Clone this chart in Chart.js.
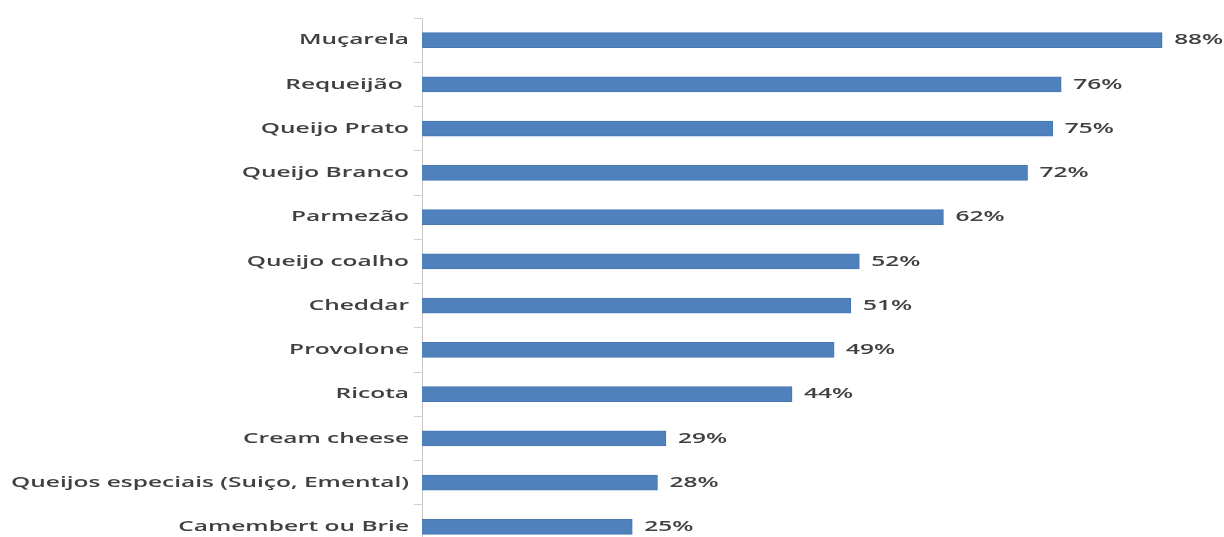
<!DOCTYPE html>
<html>
<head>
<meta charset="utf-8">
<script src="https://cdn.jsdelivr.net/npm/chart.js@4"></script>
<style>
html,body{margin:0;padding:0;background:#fff;overflow:hidden;}
#wrap{position:relative;width:1224px;height:552px;}
</style>
</head>
<body>
<div id="wrap"><canvas id="c"></canvas></div>
<script>
const categories = ["Muçarela","Requeijão ","Queijo Prato","Queijo Branco","Parmezão","Queijo coalho","Cheddar","Provolone","Ricota","Cream cheese","Queijos especiais (Suiço, Emental)","Camembert ou Brie"];
const values = [88,76,75,72,62,52,51,49,44,29,28,25];
const valueLabels = ["88%","76%","75%","72%","62%","52%","51%","49%","44%","29%","28%","25%"];

const FONT = "600 15px 'Open Sans'";
const TEXT_COLOR = "#404040";
const LONGEST_WIDTH = 398;

const labelPlugin = {
  id: 'stretchedLabels',
  afterDraw(chart) {
    const ctx = chart.ctx;
    const ys = chart.scales.y, xs = chart.scales.x;
    ctx.save();
    ctx.font = FONT;
    const stretch = LONGEST_WIDTH / ctx.measureText(categories[10]).width;
    ctx.fillStyle = TEXT_COLOR;
    ctx.textBaseline = 'middle';
    categories.forEach((lab, i) => {
      const y = ys.getPixelForValue(i);
      ctx.save();
      ctx.translate(ys.right - 13, y);
      ctx.scale(stretch, 1);
      ctx.textAlign = 'right';
      ctx.fillText(lab, 0, 0);
      ctx.restore();
      const x = xs.getPixelForValue(values[i]) + 12;
      ctx.save();
      ctx.translate(x, y);
      ctx.scale(stretch, 1);
      ctx.textAlign = 'left';
      ctx.fillText(valueLabels[i], 0, 0);
      ctx.restore();
    });
    ctx.restore();
  }
};

new Chart(document.getElementById('c'), {
  type: 'bar',
  data: {
    labels: categories,
    datasets: [{
      data: values,
      backgroundColor: '#4f81bd',
      borderColor: '#4677b3',
      borderWidth: 1,
      barThickness: 15
    }]
  },
  options: {
    indexAxis: 'y',
    responsive: true,
    maintainAspectRatio: false,
    animation: false,
    layout: { padding: { top: 18, bottom: 3, right: 3, left: 0 } },
    plugins: { legend: { display: false }, tooltip: { enabled: false } },
    scales: {
      x: { display: false, min: 0, max: 95 },
      y: {
        afterFit(s) { s.width = 422; },
        ticks: { display: false },
        grid: { display: true, drawOnChartArea: false, offset: true, tickLength: 8, color: '#d0d0d0' },
        border: { display: true, color: '#c8c8c8', width: 1 }
      }
    }
  },
  plugins: [labelPlugin]
});
</script>
</body>
</html>
